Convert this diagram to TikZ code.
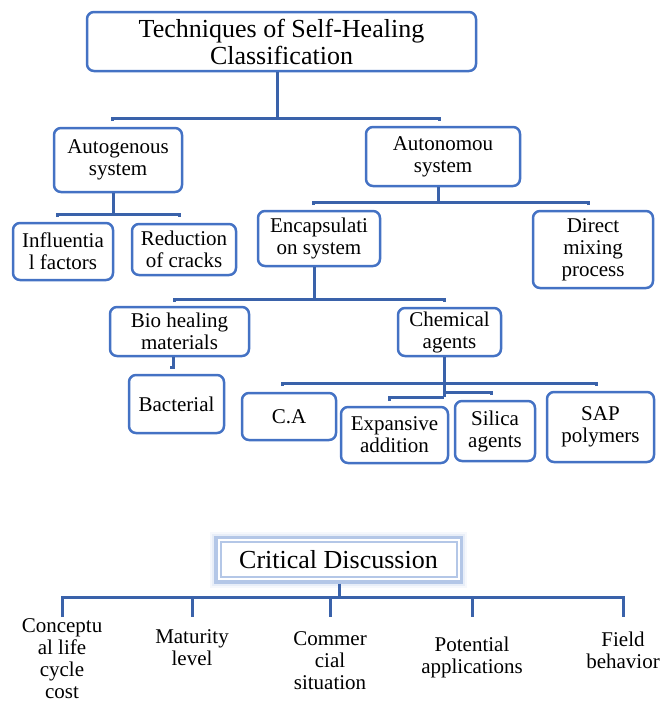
\documentclass[tikz,border=0pt]{standalone}
\usepackage{fontspec}
\setmainfont{Liberation Serif}
\usetikzlibrary{calc}

\definecolor{boxblue}{HTML}{4472C4}
\definecolor{linkblue}{HTML}{3A62AA}
\definecolor{frameblue}{HTML}{B4C7E7}

\tikzset{
    box/.style={
        draw=boxblue,
        line width=2.5pt,
        rounded corners=7pt,
        fill=white,
        align=center,
        inner sep=0pt,
        font=\fontsize{21}{22}\selectfont
    },
    link/.style={
        draw=linkblue,
        line width=3pt
    },
    leaf/.style={
        align=center,
        inner sep=0pt,
        font=\fontsize{21}{22}\selectfont
    }
}

\begin{document}
\begin{tikzpicture}[x=1pt, y=-1pt]

    \useasboundingbox (0,0) rectangle (662,702);

    % title
    \node[box, minimum width=389pt, minimum height=59pt,
          font=\fontsize{26}{27}\selectfont]
        (title) at (281.5,41.5) {Techniques of Self-Healing\\Classification};

    % first level
    \node[box, minimum width=128pt, minimum height=64pt]
        (autog) at (118,160) {Autogenous\\system};
    \node[box, minimum width=154pt, minimum height=59pt]
        (auton) at (443,156.5) {Autonomou\\system};

    % autogenous branch
    \node[box, minimum width=100pt, minimum height=57pt]
        (infl) at (63,251.5) {Influentia\\l factors};
    \node[box, minimum width=104pt, minimum height=51pt]
        (reduc) at (184,249.5) {Reduction\\of cracks};

    % autonomous branch
    \node[box, minimum width=122pt, minimum height=55pt]
        (encap) at (319,238.5) {Encapsulati\\on system};
    \node[box, minimum width=120pt, minimum height=77pt]
        (direct) at (593,249.5) {Direct\\mixing\\process};

    % encapsulation branch
    \node[box, minimum width=139pt, minimum height=49pt]
        (bio) at (179.5,331.5) {Bio healing\\materials};
    \node[box, minimum width=103pt, minimum height=48pt]
        (chem) at (449.5,332) {Chemical\\agents};
    \node[box, minimum width=95pt, minimum height=58pt]
        (bact) at (176.5,404) {Bacterial};

    % chemical agents
    \node[box, minimum width=94pt, minimum height=47pt]
        (ca) at (289,416.5) {C.A};
    \node[box, minimum width=107pt, minimum height=56pt]
        (expan) at (394.5,435) {Expansive\\addition};
    \node[box, minimum width=80pt, minimum height=60pt]
        (silica) at (495,431) {Silica\\agents};
    \node[box, minimum width=107pt, minimum height=70pt]
        (sap) at (600.5,427) {SAP\\polymers};

    % title -> first level
    \coordinate (j1) at (277,118);
    \coordinate (b1w) at (112,121);
    \coordinate (b1e) at (439,121);
    \draw[link]
        (title.south -| j1) --
        (j1);
    \draw[link]
        (b1w) |- (j1) -| (b1e);

    % autogenous -> factors
    \coordinate (j2) at (113,214);
    \coordinate (b2w) at (57,217);
    \coordinate (b2e) at (179,217);
    \draw[link]
        (autog.south -| j2) --
        (j2);
    \draw[link]
        (b2w) |- (j2) -| (b2e);

    % autonomous -> methods
    \coordinate (j3) at (438,202);
    \coordinate (b3w) at (313,205);
    \coordinate (b3e) at (588,205);
    \draw[link]
        (auton.south -| j3) --
        (j3);
    \draw[link]
        (b3w) |- (j3) -| (b3e);

    % encapsulation -> materials
    \coordinate (j4) at (314,299);
    \coordinate (b4w) at (174,302);
    \coordinate (b4e) at (444,302);
    \draw[link]
        (encap.south -| j4) --
        (j4);
    \draw[link]
        (b4w) |- (j4) -| (b4e);

    % bio -> bacterial
    \coordinate (j5) at (173,367);
    \draw[link]
        (bio.south -| j5) --
        (j5) --
        ++(-3,0);

    % chemical -> agents
    \coordinate (j6) at (444,383);
    \coordinate (b6w) at (282,386);
    \coordinate (b6e) at (596,386);
    \coordinate (c7) at (444,397);
    \coordinate (k7) at (444,392);
    \coordinate (b7w) at (389,401);
    \coordinate (b7e) at (491,395);
    \draw[link]
        (chem.south -| c7) --
        (c7);
    \draw[link]
        (b6w) |- (j6) -| (b6e);
    \draw[link]
        (b7w) |- (c7);
    \draw[link]
        (k7) -| (b7e);

    % critical discussion
    \node[draw=frameblue, line width=2pt, fill=white, inner sep=0pt,
          minimum width=236pt, minimum height=35pt,
          font=\fontsize{26}{27}\selectfont]
        (crit) at (338.5,559.5) {Critical Discussion};
    \draw[frameblue, line width=3.5pt]
        ($(crit.north west)+(-3.75,-3.75)$) rectangle
        ($(crit.south east)+(3.75,3.75)$);
    \foreach \r/\o in {6.5/0.3, 8.5/0.12}
        \draw[frameblue, line width=2pt, opacity=\o]
            ($(crit.north west)+(-\r,-\r)$) rectangle
            ($(crit.south east)+(\r,\r)$);

    % aspects
    \node[leaf] (lcost) at (62,658.5) {Conceptu\\al life\\cycle\\cost};
    \node[leaf] (lmat) at (192,648) {Maturity\\level};
    \node[leaf] (lcom) at (330,661) {Commer\\cial\\situation};
    \node[leaf] (lpot) at (472,657) {Potential\\applications};
    \node[leaf] (lfield) at (623,650) {Field\\behavior};

    \coordinate (j8) at (339,597);
    \coordinate (d1) at (62,617);
    \coordinate (d2) at (192,617);
    \coordinate (d3) at (330,617);
    \coordinate (d4) at (472,617);
    \coordinate (d5) at (623,617);
    \draw[link]
        ($(crit.south)+(0.5,5.5)$) --
        (j8);
    \draw[link]
        (d1) |- (j8) -| (d5);
    \foreach \d in {d2,d3,d4}
        \draw[link]
            (\d |- j8) --
            (\d);

\end{tikzpicture}
\end{document}
